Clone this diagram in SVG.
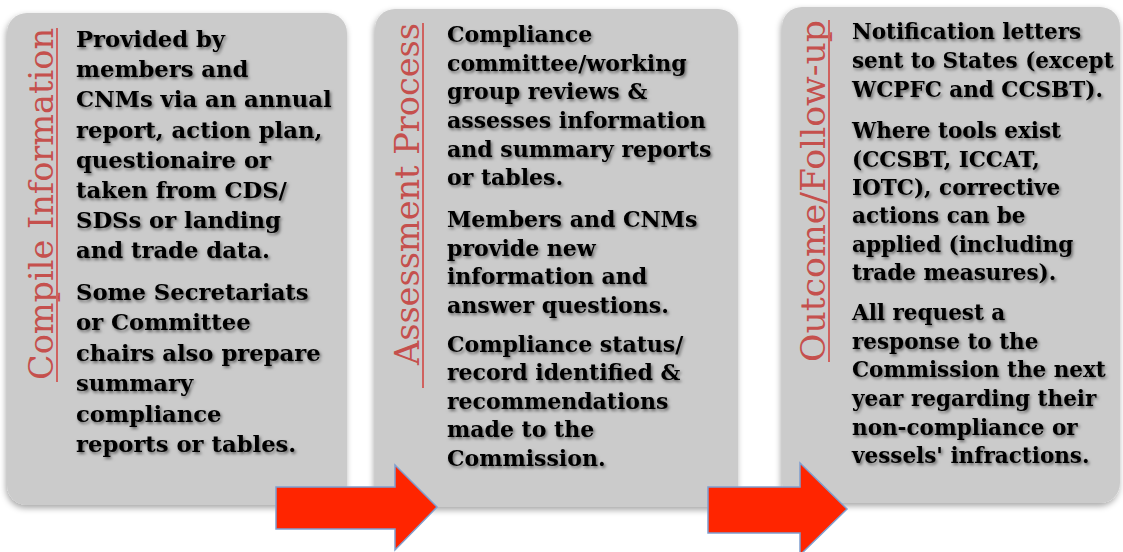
<svg xmlns="http://www.w3.org/2000/svg" width="1123" height="552" viewBox="0 0 1123 552">
<defs>
<style>
.box{fill:#cbcbcb;}
.title{font-family:"DejaVu Serif","Liberation Serif",serif;font-size:34px;fill:#c5504d;}
.ul{stroke:#d0625f;stroke-width:2;}
.body{font-family:"DejaVu Serif","Liberation Serif",serif;font-weight:bold;font-size:21.5px;fill:#000;}
.arrow{fill:#ff2500;stroke:#7f9fcf;stroke-width:1.5;stroke-linejoin:miter;}
</style>
<filter id="boxsh" x="-10%" y="-10%" width="120%" height="120%">
<feDropShadow dx="-1" dy="3" stdDeviation="3" flood-color="#000" flood-opacity="0.35"/>
</filter>
<filter id="txtsh" x="-10%" y="-10%" width="120%" height="130%">
<feDropShadow dx="1.5" dy="2" stdDeviation="1.8" flood-color="#000" flood-opacity="0.5"/>
</filter>
</defs>
<rect width="1123" height="552" fill="#fff"/>

<g id="compile-information">
<rect class="box" x="7" y="13" width="340" height="492" rx="20" filter="url(#boxsh)"/>
<text class="title" transform="translate(53,380) rotate(-90)" textLength="352" lengthAdjust="spacingAndGlyphs">Compile Information</text>
<line class="ul" x1="57" y1="28" x2="57" y2="382"/>
<text class="body" filter="url(#txtsh)" style="font-size:22.7px">
<tspan x="76" y="47">Provided by</tspan>
<tspan x="76" y="77">members and</tspan>
<tspan x="76" y="107">CNMs via an annual</tspan>
<tspan x="76" y="138">report, action plan,</tspan>
<tspan x="76" y="168">questionaire or</tspan>
<tspan x="76" y="198">taken from CDS/</tspan>
<tspan x="76" y="228">SDSs or landing</tspan>
<tspan x="76" y="258">and trade data.</tspan>
<tspan x="76" y="300">Some Secretariats</tspan>
<tspan x="76" y="330">or Committee</tspan>
<tspan x="76" y="361">chairs also prepare</tspan>
<tspan x="76" y="391">summary</tspan>
<tspan x="76" y="422">compliance</tspan>
<tspan x="76" y="452">reports or tables.</tspan>
</text>
</g>

<g id="assessment-process">
<rect class="box" x="375" y="9" width="363" height="498" rx="20" filter="url(#boxsh)"/>
<text class="title" transform="translate(419,365) rotate(-90)" textLength="342" lengthAdjust="spacingAndGlyphs">Assessment Process</text>
<line class="ul" x1="423" y1="23" x2="423" y2="388"/>
<text class="body" filter="url(#txtsh)" style="font-size:22px">
<tspan x="447" y="42">Compliance</tspan>
<tspan x="447" y="71">committee/working</tspan>
<tspan x="447" y="99">group reviews &amp;</tspan>
<tspan x="447" y="128">assesses information</tspan>
<tspan x="447" y="157">and summary reports</tspan>
<tspan x="447" y="185">or tables.</tspan>
<tspan x="447" y="227">Members and CNMs</tspan>
<tspan x="447" y="256">provide new</tspan>
<tspan x="447" y="284">information and</tspan>
<tspan x="447" y="313">answer questions.</tspan>
<tspan x="447" y="352">Compliance status/</tspan>
<tspan x="447" y="380">record identified &amp;</tspan>
<tspan x="447" y="409">recommendations</tspan>
<tspan x="447" y="437">made to the</tspan>
<tspan x="447" y="466">Commission.</tspan>
</text>
</g>

<g id="outcome-follow-up">
<rect class="box" x="782" y="7" width="338" height="496" rx="20" filter="url(#boxsh)"/>
<text class="title" transform="translate(825,362) rotate(-90)" textLength="342" lengthAdjust="spacingAndGlyphs">Outcome/Follow-up</text>
<line class="ul" x1="829" y1="20" x2="829" y2="362"/>
<text class="body" filter="url(#txtsh)">
<tspan x="852" y="39">Notification letters</tspan>
<tspan x="852" y="68">sent to States (except</tspan>
<tspan x="852" y="97">WCPFC and CCSBT).</tspan>
<tspan x="852" y="138">Where tools exist</tspan>
<tspan x="852" y="167">(CCSBT, ICCAT,</tspan>
<tspan x="852" y="195">IOTC), corrective</tspan>
<tspan x="852" y="223">actions can be</tspan>
<tspan x="852" y="252">applied (including</tspan>
<tspan x="852" y="280">trade measures).</tspan>
<tspan x="852" y="320">All request a</tspan>
<tspan x="852" y="349">response to the</tspan>
<tspan x="852" y="377">Commission the next</tspan>
<tspan x="852" y="406">year regarding their</tspan>
<tspan x="852" y="435">non-compliance or</tspan>
<tspan x="852" y="463">vessels' infractions.</tspan>
</text>
</g>

<g id="connectors">
<path class="arrow" d="M276,487 L395,487 L395,465 L437,507 L395,550 L395,529 L276,529 Z"/>
<path class="arrow" d="M708,487 L800,487 L800,463 L847,509 L800,555 L800,533 L708,533 Z"/>
</g>
</svg>
